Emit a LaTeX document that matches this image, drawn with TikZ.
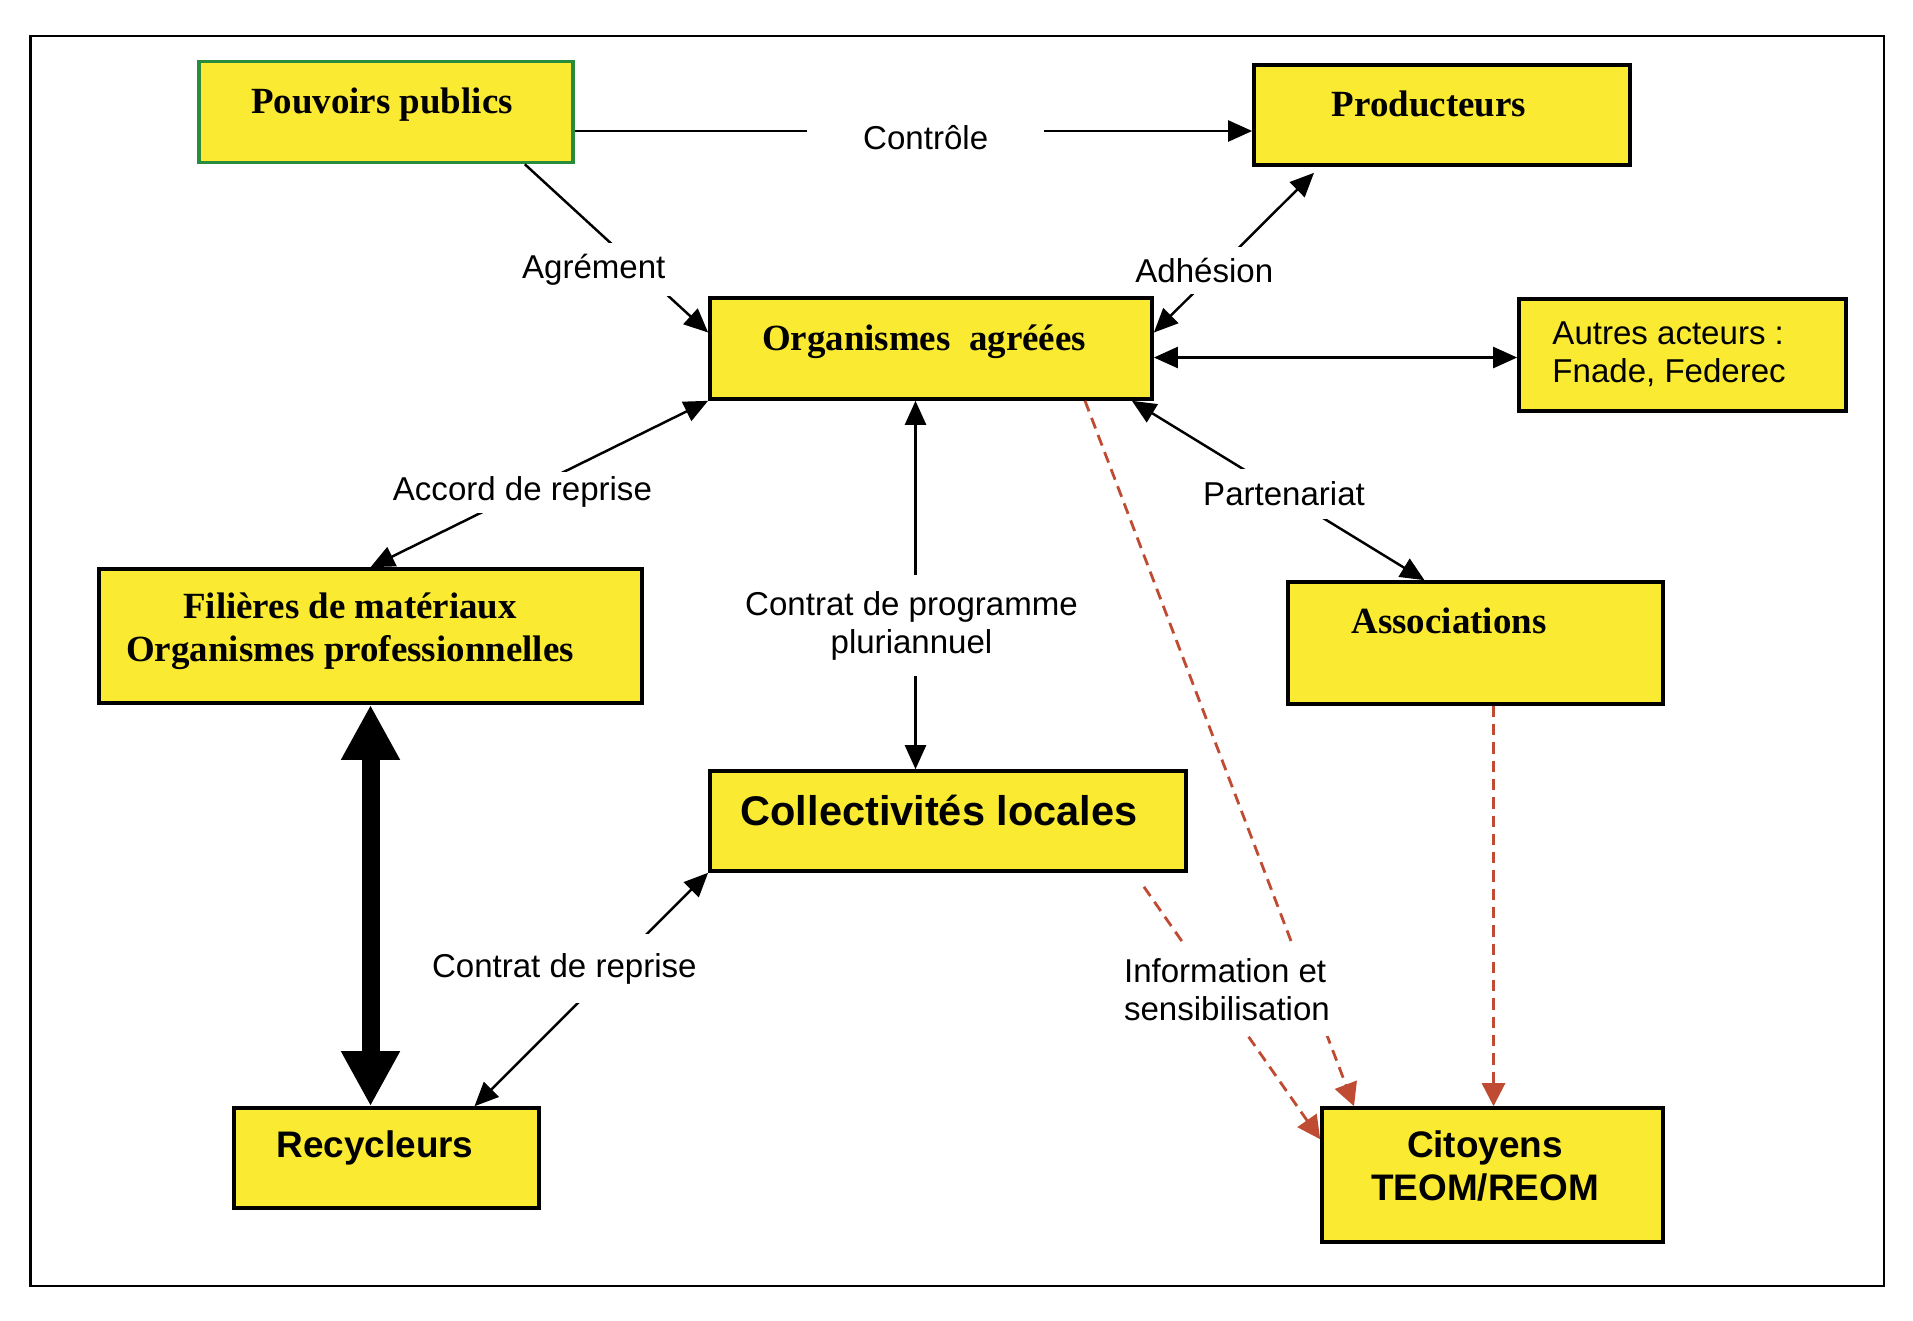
\documentclass[tikz,border=0pt]{standalone}
\usepackage{fontspec}
\setmainfont{Liberation Serif}
\setsansfont{Liberation Sans}
\usetikzlibrary{arrows.meta,calc,positioning}

\definecolor{boxyellow}{RGB}{250,234,50}
\definecolor{boxgreen}{RGB}{40,140,60}
\definecolor{infored}{RGB}{190,75,50}

\begin{document}
\begin{tikzpicture}[x=0.01cm, y=-0.01cm,
    box/.style={draw=black, line width=1pt, fill=boxyellow, inner sep=0pt},
    titre/.style={font=\fontsize{10.5}{12.2}\selectfont\bfseries},
    titresf/.style={font=\fontsize{10.5}{12.2}\selectfont\sffamily\bfseries},
    texte/.style={font=\fontsize{9.4}{10.8}\selectfont\sffamily},
    lien/.style={texte, fill=white, inner xsep=0.08cm},
    fleche/.style={line width=0.7pt, -{Triangle[length=0.24cm,width=0.21cm]}},
    fleches/.style={line width=0.7pt, {Triangle[length=0.24cm,width=0.21cm]}-{Triangle[length=0.24cm,width=0.21cm]}},
    pointille/.style={draw=infored, line width=0.8pt, dash pattern=on 3.2pt off 2pt,
        -{Triangle[length=0.23cm,width=0.23cm,fill=infored]}}
]

    \useasboundingbox (0,0) rectangle (1913,1320);
    \fill[white] (0,0) rectangle (1913,1320);
    \draw[line width=0.8pt] (30.5,36) rectangle (1884,1286);

    % les boites
    \node[box, draw=boxgreen, minimum width=3.74cm, minimum height=1.01cm] (pp) at (386,112) {};
    \node[box, minimum width=3.76cm, minimum height=1.00cm] (prod) at (1442,115) {};
    \node[box, minimum width=4.42cm, minimum height=1.01cm] (org) at (931,348.5) {};
    \node[box, minimum width=3.27cm, minimum height=1.12cm] (autres) at (1682.5,355) {};
    \node[box, minimum width=5.43cm, minimum height=1.34cm] (fil) at (370.5,636) {};
    \node[box, minimum width=3.75cm, minimum height=1.22cm] (assoc) at (1475.5,643) {};
    \node[box, minimum width=4.76cm, minimum height=1.00cm] (coll) at (948,821) {};
    \node[box, minimum width=3.05cm, minimum height=1.00cm] (recy) at (386.5,1158) {};
    \node[box, minimum width=3.41cm, minimum height=1.34cm] (cit) at (1492.5,1175) {};

    % les textes des boites
    \node[titre] (pp-txt) at (382,105) {Pouvoirs publics};
    \node[titre] (prod-txt) at (1429,104) {Producteurs};
    \node[titre] (org-txt) at (924,342) {Organismes~~agréées};
    \node[texte, anchor=west, align=left] (autres-txt) at (1540,354) {Autres acteurs :\\Fnade, Federec};
    \node[titre, align=center] (fil-txt) at (350,631) {Filières de matériaux\\Organismes professionnelles};
    \node[titre] (assoc-txt) at (1449,621) {Associations};
    \node[titresf, font=\fontsize{11.8}{13}\selectfont\sffamily\bfseries] (coll-txt) at (939,810) {Collectivités locales};
    \node[titresf] (recy-txt) at (375,1148) {Recycleurs};
    \node[titresf, align=center] (cit-txt) at (1485,1166) {Citoyens\\TEOM/REOM};

    % les liens
    \coordinate (c1) at ($(pp.east)+(0,19)$);
    \draw[fleche] (c1) -- node[lien, pos=0.518, yshift=-1.8pt, inner xsep=0.56cm] {Contrôle} (c1 -| prod.west);

    \draw[fleche] ($(pp.south east)+(-50,0)$) -- node[lien, pos=0.627, xshift=-0.46cm, inner ysep=0.11cm] {Agrément} ($(org.west)+(0,-16)$);
    \draw[fleches] ($(org.east)+(0,-16)$) -- node[lien, pos=0.39, xshift=-0.12cm, inner ysep=0.11cm] {Adhésion} ($(prod.south)+(-128,6)$);

    \coordinate (c2) at ($(org.east)+(0,9)$);
    \draw[fleches] (c2) -- (c2 -| autres.west);

    \draw[fleches] (org.south west) -- node[lien, pos=0.55, inner ysep=0.05cm] {Accord de reprise} (fil.north);

    \coordinate (c3) at ($(org.south)+(-15.5,0)$);
    \draw[fleches] (c3) -- node[lien, pos=0.61, xshift=-0.04cm, align=center, inner ysep=0.16cm] {Contrat de programme\\pluriannuel} (c3 |- coll.north);

    \draw[fleches] ($(org.south east)+(-22,0)$) -- node[lien, pos=0.52, inner ysep=0.13cm] {Partenariat} ($(assoc.north)+(-51,0)$);

    % fleche epaisse
    \draw[line width=0.18cm, {Triangle[length=0.55cm,width=0.55cm]}-{Triangle[length=0.55cm,width=0.55cm]}] (fil.south) -- (fil.south |- recy.north);

    \draw[fleches] (coll.south west) -- node[lien, pos=0.41, xshift=-0.48cm, inner ysep=0.19cm] {Contrat de reprise} ($(recy.north)+(88,0)$);

    % pointilles rouges
    \draw[pointille] ($(org.south)+(154,0)$) -- ($(cit.north)+(-138.5,0)$);
    \coordinate (c4) at ($(assoc.south)+(18,0)$);
    \draw[pointille] (c4) -- (c4 |- cit.north);
    \draw[pointille] ($(coll.south east)+(-44,14)$) -- node[lien, pos=0.406, xshift=0.115cm, align=left, inner ysep=0.16cm] {Information et\\sensibilisation} ($(cit.north west)+(0,33)$);

\end{tikzpicture}
\end{document}
